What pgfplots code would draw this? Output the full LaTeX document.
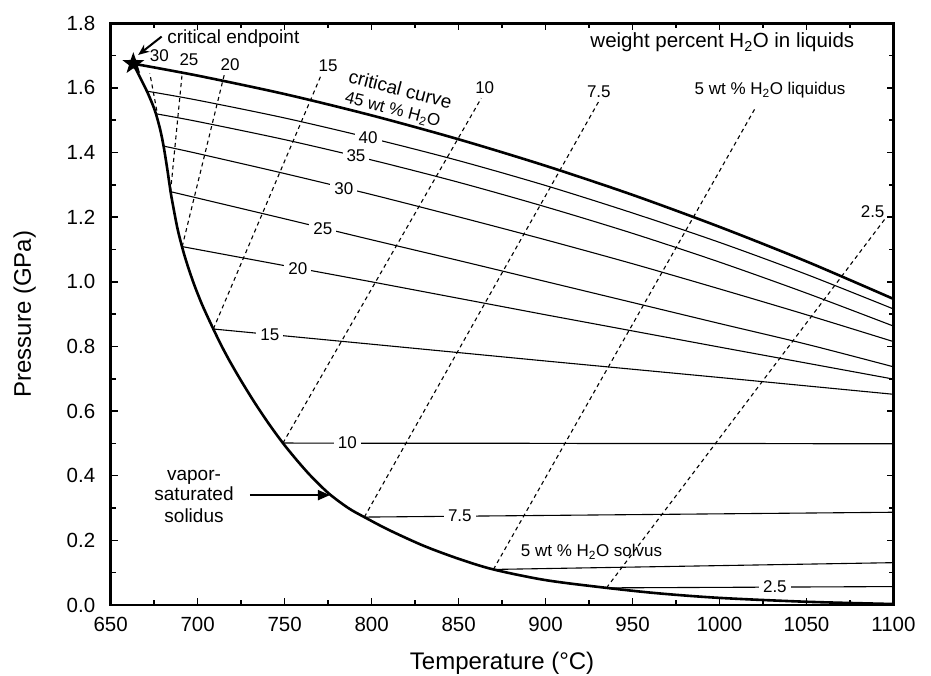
\documentclass[border=0pt]{standalone}
\usepackage{pgfplots}
\pgfplotsset{compat=1.18}
\usepackage{fontspec}
\setmainfont{Liberation Sans}
\usetikzlibrary{arrows.meta}
\newcommand{\fa}{\fontsize{17}{20}\selectfont}
\newcommand{\fb}{\fontsize{19}{22}\selectfont}
\pgfdeclareplotmark{fstar}{%
  \pgfpathmoveto{\pgfqpointpolar{90}{11.5pt}}%
  \pgfpathlineto{\pgfqpointpolar{126}{4.6pt}}%
  \pgfpathlineto{\pgfqpointpolar{162}{11.5pt}}%
  \pgfpathlineto{\pgfqpointpolar{198}{4.6pt}}%
  \pgfpathlineto{\pgfqpointpolar{234}{11.5pt}}%
  \pgfpathlineto{\pgfqpointpolar{270}{4.6pt}}%
  \pgfpathlineto{\pgfqpointpolar{306}{11.5pt}}%
  \pgfpathlineto{\pgfqpointpolar{342}{4.6pt}}%
  \pgfpathlineto{\pgfqpointpolar{18}{11.5pt}}%
  \pgfpathlineto{\pgfqpointpolar{54}{4.6pt}}%
  \pgfpathclose\pgfusepathqfill}
\begin{document}
\begin{tikzpicture}
\begin{axis}[
  name=ax,
  width=782.8pt, height=581.7pt, scale only axis,
  xmin=650, xmax=1100, ymin=0, ymax=1.8,
  xtick={650,700,...,1100}, ytick={0,0.2,0.4,0.6,0.8,1.0,1.2,1.4,1.6,1.8},
  minor x tick num=1, minor y tick num=1,
  tick align=inside, xtick pos=both, ytick pos=both,
  xticklabel pos=left, yticklabel pos=left,
  major tick length=7pt, minor tick length=5pt,
  every tick/.style={black, line width=1.5pt},
  axis line style={line width=2.5pt},
  /pgf/number format/assume math mode=true,
  ticklabel style={font=\fontsize{20.5}{24}\selectfont},
  xticklabel style={/pgf/number format/set thousands separator={}, yshift=-9pt},
  yticklabel style={/pgf/number format/fixed, /pgf/number format/fixed zerofill, /pgf/number format/precision=1, xshift=-12pt},
  scaled ticks=false,
  xlabel={Temperature (°C)}, ylabel={Pressure (GPa)},
  label style={font=\fontsize{24}{28}\selectfont},
  xlabel style={at={(axis description cs:0.5,-0.0997)}, anchor=center},
  ylabel style={at={(axis description cs:-0.110,0.5)}, anchor=center},
]
% critical curve
\addplot[line width=2.6pt, smooth] coordinates {
(663,1.675) (700,1.638) (750,1.581) (800,1.515) (850,1.441) (900,1.359) (950,1.269) (1000,1.170) (1050,1.063) (1100,0.947)};
% vapor-saturated solidus
\addplot[line width=2.6pt, smooth] coordinates {
(663,1.675) (667.1,1.63) (670.8,1.59) (674.0,1.55) (676.0,1.52) (678.5,1.47) (680.4,1.42) (682.5,1.35) (684.4,1.28) (685.7,1.24) (688.6,1.16) (692.5,1.08) (697.4,1.0) (702.5,0.93) (709,0.854) (713.9,0.80) (719,0.749) (725.4,0.69) (732.9,0.625) (741,0.56) (749,0.501) (756.7,0.45) (764.9,0.40) (775.4,0.345) (786.6,0.30) (795.8,0.272) (810,0.232) (830,0.183) (850,0.143) (870,0.110) (900,0.077) (935,0.053) (965,0.036) (1000,0.022) (1050,0.010) (1100,0.003)};
% solid isopleths (weight percent H2O in liquids)
\addplot[line width=1.1pt, smooth] coordinates {(670.8,1.590) (700,1.562) (750,1.507) (800,1.444) (850,1.375) (900,1.298) (950,1.213) (1000,1.122) (1050,1.023) (1100,0.916)};
\addplot[line width=1.1pt, smooth] coordinates {(676.0,1.520) (700,1.496) (750,1.440) (800,1.377) (850,1.308) (900,1.232) (950,1.150) (1000,1.061) (1050,0.965) (1100,0.863)};
\addplot[line width=1.1pt, smooth] coordinates {(680.4,1.420) (700,1.397) (750,1.335) (800,1.270) (850,1.201) (900,1.130) (950,1.056) (1000,0.978) (1050,0.898) (1100,0.815)};
\addplot[line width=1.1pt, smooth] coordinates {(684.4,1.279) (750,1.195) (800,1.130) (850,1.066) (900,1.001) (950,0.936) (1000,0.871) (1050,0.807) (1100,0.737)};
\addplot[line width=1.1pt] coordinates {(691.1,1.109) (800,1.000) (900,0.898) (1000,0.798) (1100,0.699)};
\addplot[line width=1.1pt] coordinates {(709,0.854) (800,0.807) (900,0.755) (1000,0.704) (1100,0.652)};
\addplot[line width=1.2pt] coordinates {(749,0.501) (1100,0.499)};
\addplot[line width=1.1pt] coordinates {(795.8,0.272) (1100,0.287)};
\addplot[line width=1.1pt] coordinates {(870,0.110) (1100,0.131)};
\addplot[line width=1.1pt] coordinates {(935,0.053) (1100,0.057)};
% dashed liquidus isopleths
\addplot[line width=1.1pt, dash pattern=on 4pt off 3.5pt] coordinates {(676.5,1.530) (672.5,1.645)};
\addplot[line width=1.1pt, dash pattern=on 4pt off 3.5pt] coordinates {(684.4,1.279) (691,1.640)};
\addplot[line width=1.1pt, dash pattern=on 4pt off 3.5pt] coordinates {(691.1,1.109) (715.7,1.650)};
\addplot[line width=1.1pt, dash pattern=on 4pt off 3.5pt] coordinates {(709,0.854) (771,1.640)};
\addplot[line width=1.1pt, dash pattern=on 4pt off 3.5pt] coordinates {(749,0.501) (863,1.568)};
\addplot[line width=1.1pt, dash pattern=on 4pt off 3.5pt] coordinates {(795.8,0.272) (931,1.5625)};
\addplot[line width=1.1pt, dash pattern=on 4pt off 3.5pt] coordinates {(870,0.110) (1021,1.542)};
\addplot[line width=1.1pt, dash pattern=on 4pt off 3.5pt] coordinates {(935,0.053) (1096,1.201)};
% critical endpoint star
\addplot[only marks, mark=fstar] coordinates {(663,1.675)};
% labels on isopleths
\begin{scope}[every node/.style={fill=white, inner xsep=4pt, inner ysep=1pt, font=\fa}]
\node at (798,1.447) {40};
\node at (791,1.389) {35};
\node at (784,1.287) {30};
\node at (772,1.166) {25};
\node at (757.6,1.042) {20};
\node at (741.5,0.837) {15};
\node at (786,0.501) {10};
\node at (850.7,0.277) {7.5};
\node at (1031.8,0.057) {2.5};
\end{scope}
\begin{scope}[every node/.style={inner sep=0pt, font=\fa}]
\node at (678,1.699) {30};
\node at (695,1.687) {25};
\node at (718.6,1.672) {20};
\node at (775,1.668) {15};
\node at (865,1.600) {10};
\node at (930.6,1.587) {7.5};
\node at (1029,1.593) {5 wt \% H\textsubscript{2}O liquidus};
\node at (1088,1.216) {2.5};
\node at (926.4,0.165) {5 wt \% H\textsubscript{2}O solvus};
\node[rotate=-14.5, font=\fb] at (816.6,1.596) {critical curve};
\node[rotate=-14.5, font=\fa] at (812,1.532) {45 wt \% H\textsubscript{2}O};
\node[font=\fb] at (720.5,1.753) {critical endpoint};
\node[font=\fontsize{20.5}{24}\selectfont] at (1001.6,1.740) {weight percent H\textsubscript{2}O in liquids};
\node[font=\fb, anchor=base] at (697.9,0.3867) {vapor-};
\node[font=\fb, anchor=base] at (697.9,0.3227) {saturated};
\node[font=\fb, anchor=base] at (697.9,0.2559) {solidus};
\end{scope}
\draw[line width=2pt, -{Stealth[length=11pt,width=9pt]}] (679.3,1.759) -- (665.8,1.702);
\draw[line width=2pt, -{Triangle[length=12pt,width=10pt]}] (730,0.340) -- (776,0.340);
\end{axis}
\pgfresetboundingbox
\useasboundingbox ([xshift=-110.7pt,yshift=-71pt]ax.south west) rectangle ([xshift=37.5pt,yshift=23.3pt]ax.north east);
\end{tikzpicture}
\end{document}
